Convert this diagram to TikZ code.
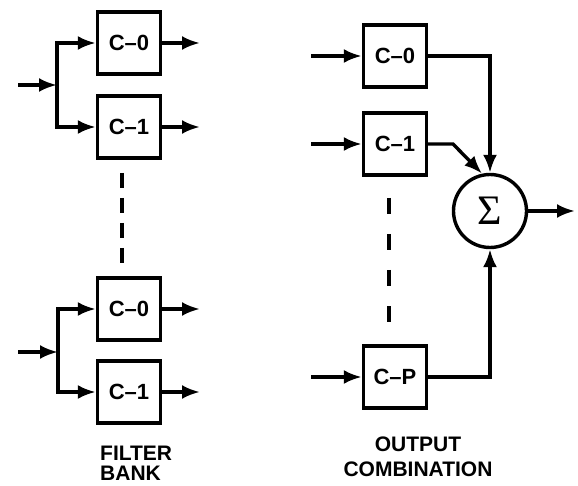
\documentclass[tikz,border=0pt]{standalone}
\usepackage{fontspec}
\setmainfont{Liberation Sans}
\newfontfamily\sigfont{Liberation Serif}
\usetikzlibrary{arrows.meta}
\begin{document}
\begin{tikzpicture}[x=1pt,y=-1pt,
  wire/.style={line width=3.4pt},
  arr/.style={wire,-{Latex[length=18pt,width=14pt]}},
  blk/.style={draw,line width=3.4pt,minimum width=63pt,minimum height=62pt,inner sep=0pt,font=\fontsize{22}{22}\selectfont\bfseries},
  lbl/.style={inner sep=0pt,font=\fontsize{21}{20}\selectfont\bfseries},
  dshA/.style={line width=3.4pt,dash pattern=on 15pt off 10pt},
  dshB/.style={line width=3.4pt,dash pattern=on 16pt off 20pt}]
\useasboundingbox (0,0) rectangle (578,486);
% ---- filter bank, upper
\node[blk] (a0) at (129,43) {C--0};
\node[blk] (a1) at (129,127) {C--1};
\coordinate (in1) at (18,85);
\coordinate (j1) at (57,85);
\coordinate (oa0) at (200,43);
\coordinate (oa1) at (200,127);
\draw[arr] (in1) -- (j1);
\draw[arr] (j1) |- (a0.west);
\draw[arr] (j1) |- (a1.west);
\draw[arr] (a0.east) -- (oa0);
\draw[arr] (a1.east) -- (oa1);
% dashed
\coordinate (d1a) at (122,173);
\coordinate (d1b) at (122,263);
\draw[dshA] (d1a) -- (d1b);
% ---- filter bank, lower
\node[blk] (b0) at (129,309) {C--0};
\node[blk] (b1) at (129,392) {C--1};
\coordinate (in2) at (18,352);
\coordinate (j2) at (58,352);
\coordinate (ob0) at (200,309);
\coordinate (ob1) at (200,392);
\draw[arr] (in2) -- (j2);
\draw[arr] (j2) |- (b0.west);
\draw[arr] (j2) |- (b1.west);
\draw[arr] (b0.east) -- (ob0);
\draw[arr] (b1.east) -- (ob1);
% ---- output combination
\node[blk] (r0) at (395,56) {C--0};
\node[blk] (r1) at (395,144) {C--1};
\node[blk] (rp) at (395,377) {C--P};
\node[draw,circle,line width=3.4pt,minimum size=73pt,inner sep=0pt] (sum) at (490,211) {\sigfont\fontsize{42}{42}\selectfont Σ};
\coordinate (ri0) at (311,56);
\coordinate (ri1) at (311,144);
\coordinate (rip) at (311,377);
\draw[arr] (ri0) -- (r0.west);
\draw[arr] (ri1) -- (r1.west);
\draw[arr] (rip) -- (rp.west);
\draw[arr] (r0.east) -| (sum.north);
\coordinate (k1) at (453,144);
\draw[arr] (r1.east) -- (k1) -- (sum.102);
\draw[arr] (rp.east) -| (sum.south);
\coordinate (so) at (575,211);
\draw[arr] (sum.east) -- (so);
\coordinate (d2a) at (389,198);
\coordinate (d2b) at (389,325);
\draw[dshB] (d2a) -- (d2b);
% ---- labels
\node[lbl,anchor=north west,align=left] (fb) at (100,446) {FILTER\\BANK};
\node[lbl,anchor=north,align=center,font=\fontsize{21}{24.5}\selectfont\bfseries] (oc) at (418,437) {OUTPUT\\COMBINATION};
\end{tikzpicture}
\end{document}
